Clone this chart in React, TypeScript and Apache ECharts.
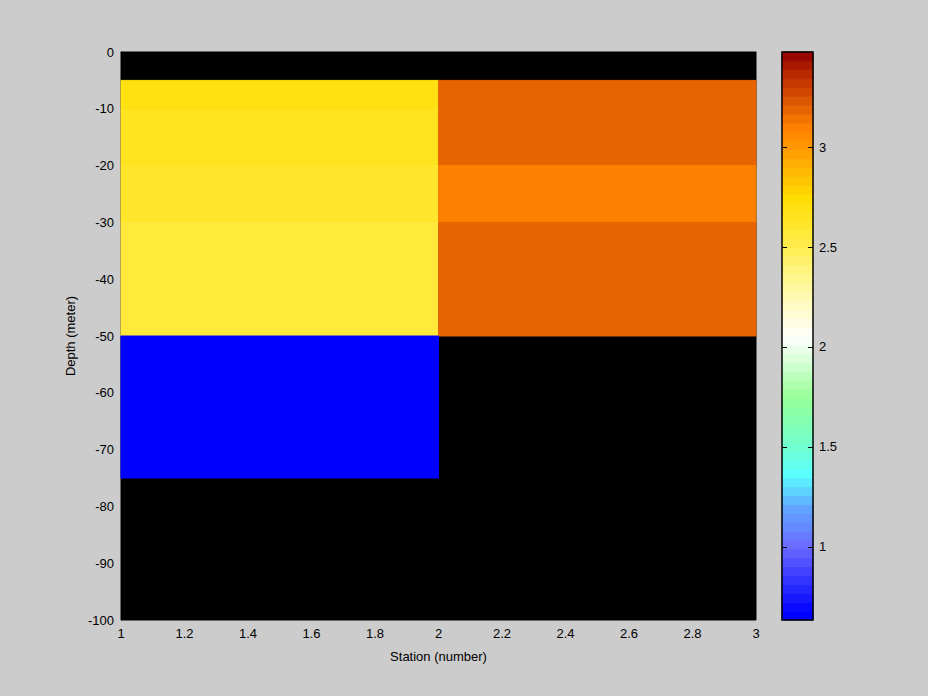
import React, { useEffect, useRef } from "react";
import * as echarts from "echarts";

// Station edges (x) and depth layers (y) of the pcolor cells
const stationLeft = [1, 2];
const stationRight = [2, 3];
const depthTop = [-5, -10, -20, -30, -50];
const depthBottom = [-10, -20, -30, -50, -75];
// values per depth layer for each station column (null = no data, drawn black)
const station1Values = [2.7, 2.655, 2.61, 2.56, 0.64];
const station2Values = [3.19, 3.19, 3.1, 3.19, null];

const xTicks = { min: 1, max: 3, interval: 0.2 };
const yTicks = { min: -100, max: 0, interval: 10 };
const colorbarTicks = [1, 1.5, 2, 2.5, 3];
const colorMin = 0.632;
const colorMax = 3.478;
const colorLevels = 64;

// colormap stops: [value, color]
const cmapValues = [0.632, 0.67, 1.0, 1.2, 1.36, 1.5, 1.75, 2.05, 2.3, 2.5, 2.75, 3.0, 3.1, 3.2, 3.35, 3.478];
const cmapColors = [
  "#0000ff", "#0000ff", "#6a6aff", "#60a8ff", "#5affff", "#70ffd0", "#98ff98", "#ffffff",
  "#fff8a0", "#ffee50", "#ffdc00", "#ff9800", "#ff8000", "#e46000", "#c03000", "#900000",
];

function hexToRgb(h: string) {
  return [parseInt(h.slice(1, 3), 16), parseInt(h.slice(3, 5), 16), parseInt(h.slice(5, 7), 16)];
}
function interpColor(v: number) {
  if (v <= cmapValues[0]) return cmapColors[0];
  for (let i = 1; i < cmapValues.length; i++) {
    if (v <= cmapValues[i]) {
      const t = (v - cmapValues[i - 1]) / (cmapValues[i] - cmapValues[i - 1]);
      const a = hexToRgb(cmapColors[i - 1]);
      const b = hexToRgb(cmapColors[i]);
      const c = a.map((x, k) => Math.round(x + (b[k] - x) * t));
      return `rgb(${c[0]},${c[1]},${c[2]})`;
    }
  }
  return cmapColors[cmapColors.length - 1];
}
const step = (colorMax - colorMin) / colorLevels;
function levelColor(i: number) {
  return interpColor(colorMin + (i + 0.5) * step);
}
function valueColor(v: number) {
  let i = Math.floor((v - colorMin) / step);
  i = Math.max(0, Math.min(colorLevels - 1, i));
  return levelColor(i);
}

const FONT = "'Liberation Sans', Arial, sans-serif";

export default function App() {
  const ref = useRef<HTMLDivElement>(null);
  useEffect(() => {
    document.body.style.margin = "0";
    const chart = echarts.init(ref.current!, null, { renderer: "svg" });

    const cells: any[] = [];
    depthTop.forEach((t, i) => {
      if (station1Values[i] != null) cells.push([stationLeft[0], stationRight[0], t, depthBottom[i], station1Values[i]]);
      if (station2Values[i] != null) cells.push([stationLeft[1], stationRight[1], t, depthBottom[i], station2Values[i]]);
    });
    const levels = Array.from({ length: colorLevels }, (_, i) => [i]);

    const labelStyle = { color: "#000", fontSize: 13, fontFamily: FONT };

    chart.setOption({
      animation: false,
      backgroundColor: "#cccccc",
      grid: [
        { left: 121, top: 52, width: 635, height: 568, show: true, backgroundColor: "#000", borderColor: "#000", borderWidth: 1 },
        { left: 782, top: 52, width: 31, height: 568, show: false },
      ],
      xAxis: [
        {
          type: "value", gridIndex: 0, min: xTicks.min, max: xTicks.max, interval: xTicks.interval,
          name: "Station (number)", nameLocation: "middle", nameGap: 30,
          nameTextStyle: { ...labelStyle },
          axisLine: { show: true, lineStyle: { color: "#000" } },
          axisTick: { show: false },
          splitLine: { show: false },
          axisLabel: { ...labelStyle, margin: 7, formatter: (v: number) => String(Math.round(v * 10) / 10) },
        },
        { type: "value", gridIndex: 1, min: 0, max: 1, show: false },
      ],
      yAxis: [
        {
          type: "value", gridIndex: 0, min: yTicks.min, max: yTicks.max, interval: yTicks.interval,
          name: "Depth (meter)", nameLocation: "middle", nameGap: 39,
          nameTextStyle: { ...labelStyle },
          axisLine: { show: true, lineStyle: { color: "#000" } },
          axisTick: { show: false },
          splitLine: { show: false },
          axisLabel: { ...labelStyle, margin: 7 },
        },
        {
          type: "value", gridIndex: 1, min: colorMin, max: colorMax, position: "right",
          axisLine: { show: false },
          splitLine: { show: false },
          axisTick: { show: false },
          axisLabel: { ...labelStyle, margin: 6, customValues: colorbarTicks, formatter: (v: number) => String(v) },
        },
      ],
      series: [
        {
          type: "custom",
          xAxisIndex: 0,
          yAxisIndex: 0,
          data: cells,
          renderItem: (params: any, api: any) => {
            const p0 = api.coord([api.value(0), api.value(2)]);
            const p1 = api.coord([api.value(1), api.value(3)]);
            const c = valueColor(api.value(4));
            return {
              type: "rect",
              shape: { x: p0[0], y: p0[1], width: p1[0] - p0[0], height: p1[1] - p0[1] },
              style: { fill: c, stroke: c, lineWidth: 1 },
            };
          },
        },
        {
          type: "custom",
          xAxisIndex: 1,
          yAxisIndex: 1,
          data: levels,
          z: 1,
          renderItem: (params: any, api: any) => {
            const i = api.value(0);
            const lo = colorMin + i * step;
            const hi = lo + step;
            const p0 = api.coord([0, hi]);
            const p1 = api.coord([1, lo]);
            const c = levelColor(i);
            return {
              type: "rect",
              shape: { x: p0[0], y: p0[1], width: p1[0] - p0[0], height: p1[1] - p0[1] },
              style: { fill: c, stroke: c, lineWidth: 0.8 },
            };
          },
        },
        {
          // colorbar ticks (inside, on both edges) and frame
          type: "custom",
          xAxisIndex: 1,
          yAxisIndex: 1,
          data: colorbarTicks.map((v) => [v]),
          z: 5,
          renderItem: (params: any, api: any) => {
            const pL = api.coord([0, api.value(0)]);
            const pR = api.coord([1, api.value(0)]);
            const y = Math.round(pL[1]) + 0.5;
            const children: any[] = [
              { type: "line", shape: { x1: pL[0], y1: y, x2: pL[0] + 5, y2: y }, style: { stroke: "#000", lineWidth: 1 } },
              { type: "line", shape: { x1: pR[0] - 5, y1: y, x2: pR[0], y2: y }, style: { stroke: "#000", lineWidth: 1 } },
            ];
            if (params.dataIndex === 0) {
              const t0 = api.coord([0, colorMax]);
              const b1 = api.coord([1, colorMin]);
              children.push({
                type: "rect",
                shape: { x: t0[0], y: t0[1], width: b1[0] - t0[0], height: b1[1] - t0[1] },
                style: { fill: "none", stroke: "#000", lineWidth: 1.5 },
              });
            }
            return { type: "group", children };
          },
        },
      ],
    });
    return () => chart.dispose();
  }, []);
  return <div ref={ref} style={{ width: 928, height: 696 }} />;
}
